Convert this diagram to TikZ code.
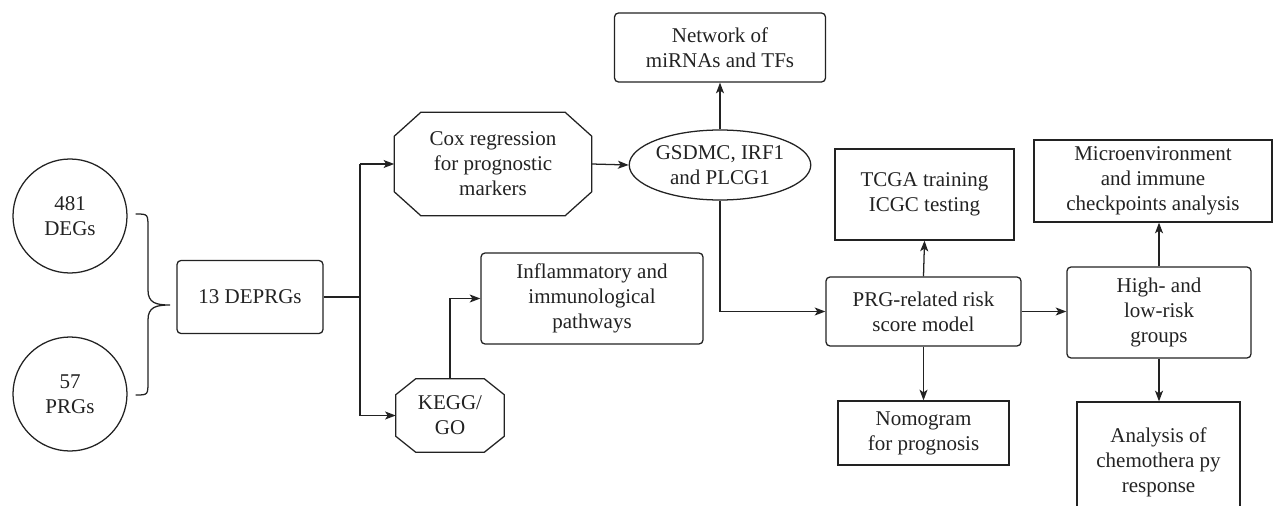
\documentclass[tikz,border=0pt]{standalone}
\usepackage{fontspec}
\setmainfont{Liberation Serif}
\usetikzlibrary{arrows.meta,shapes.geometric,calc}
\definecolor{ink}{HTML}{222222}
\begin{document}
\begin{tikzpicture}[x=0.75pt,y=-0.75pt,
  every node/.style={font=\rmfamily\fontsize{15.75}{18.75}\selectfont, align=center, inner sep=0pt, text=ink},
  base/.style={draw=ink, line width=0.95pt},
  rbox/.style={base, rounded corners=3pt},
  sbox/.style={base},
  circ/.style={base, circle},
  ell/.style={base, ellipse},
  octo/.style={draw=none},
  conn/.style={draw=ink, line width=0.95pt},
  arr/.style={conn, -{Stealth[length=8pt,width=6pt,inset=2pt]}}
]
\useasboundingbox (0,0) rectangle (1273,506);
\clip (0,0) rectangle (1273,506);

% nodes
\node[circ, minimum size=85.5pt] (deg) at (70,216) {481\\DEGs};
\node[circ, minimum size=85.5pt] (prgs) at (70,394) {57\\PRGs};
\node[rbox, minimum width=109.5pt, minimum height=54.75pt] (dep) at (250,297) {13 DEPRGs};

\node[octo, minimum width=147.75pt, minimum height=77.25pt] (cox) at (493,164) {Cox regression\\for prognostic\\markers};
\draw[base, line join=miter] ([xshift=20pt]cox.north west) -- ([xshift=-20pt]cox.north east) -- ([yshift=-18pt]cox.north east) -- ([yshift=18pt]cox.south east) -- ([xshift=-20pt]cox.south east) -- ([xshift=20pt]cox.south west) -- ([yshift=18pt]cox.south west) -- ([yshift=-18pt]cox.north west) -- cycle;

\node[octo, minimum width=81pt, minimum height=54.75pt] (kegg) at (450,415.5) {KEGG/\\GO};
\draw[base] ([xshift=15pt]kegg.north west) -- ([xshift=-15pt]kegg.north east) -- ([yshift=-12pt]kegg.north east) -- ([yshift=12pt]kegg.south east) -- ([xshift=-15pt]kegg.south east) -- ([xshift=15pt]kegg.south west) -- ([yshift=12pt]kegg.south west) -- ([yshift=-12pt]kegg.north west) -- cycle;

\node[ell, minimum width=135pt, minimum height=52.5pt] (gene) at (720,165) {GSDMC, IRF1\\and PLCG1};
\node[rbox, minimum width=158.25pt, minimum height=51.75pt] (net) at (720,47.5) {Network of\\miRNAs and TFs};
\node[rbox, minimum width=166.5pt, minimum height=68.25pt] (infl) at (592,298.5) {Inflammatory and\\immunological\\pathways};
\node[sbox, minimum width=134.25pt, minimum height=68.25pt] (tcga) at (924.5,194.5) {TCGA training\\ICGC testing};
\node[rbox, minimum width=146.25pt, minimum height=51.75pt] (prg) at (923.5,311.5) {PRG-related risk\\score model};
\node[sbox, minimum width=128.25pt, minimum height=48pt] (nomo) at (923.5,433) {Nomogram\\for prognosis};
\node[rbox, minimum width=138pt, minimum height=68.25pt] (high) at (1159,312.5) {High- and\\low-risk\\groups};
\node[sbox, minimum width=178.5pt, minimum height=61.5pt] (micro) at (1153,181) {Microenvironment\\and immune\\checkpoints analysis};
\node[sbox, minimum width=122.25pt, minimum height=90pt] (ana) at (1158.5,462) {Analysis of\\chemothera py\\response};

% brace
\draw[conn] ([xshift=6pt]deg.east |- 0,214) .. controls (148,214) .. (148,228) -- (148,290)
  .. controls (148,303) and (156,305) .. (170,305)
  .. controls (156,305) and (148,307) .. (148,320) -- (148,381)
  .. controls (148,395) .. ([xshift=6pt]prgs.east |- 0,395);

% connectors
\coordinate (j) at (360,297);
\draw[conn] (dep.east) -- (j);
\draw[arr] (j |- cox.west) -- (cox.west);
\draw[conn] (j |- cox.west) -- (j |- kegg.west);
\draw[arr] (j |- kegg.west) -- (kegg.west);
\draw[arr] (cox.east) -- (gene.west);
\draw[arr] (gene.north) -- (net.south);
\draw[arr] (kegg.north) |- (infl.west);
\draw[arr] (gene.south) |- (prg.west);
\draw[arr] (prg.north) -- (tcga.south);
\draw[arr] (prg.south) -- (nomo.north);
\draw[arr] (prg.east) -- (prg.east -| high.west);
\draw[arr] (high.north) -- (high.north |- micro.south);
\draw[arr] (high.south) -- (high.south |- ana.north);
\end{tikzpicture}
\end{document}
